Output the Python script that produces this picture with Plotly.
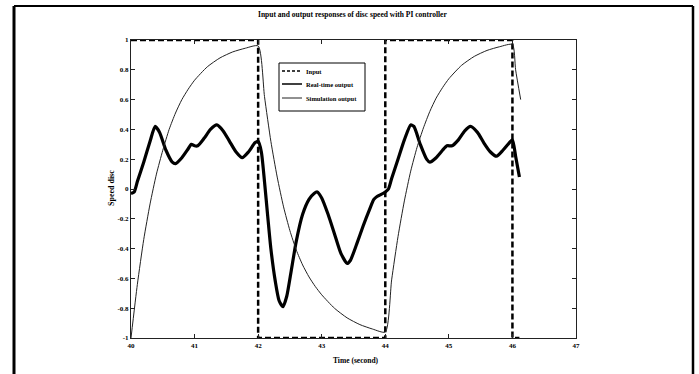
import plotly.graph_objects as go

# ---- data ----
input_t = [40.0, 42.0, 42.0, 44.0, 44.0, 46.0, 46.0, 46.11]
input_v = [1.0, 1.0, -1.0, -1.0, 1.0, 1.0, -1.0, -1.0]

real_t = [40.00, 40.05, 40.10, 40.20, 40.30, 40.38, 40.45, 40.55, 40.65, 40.70,
          40.80, 40.90, 40.95, 41.00, 41.05, 41.15, 41.25, 41.35, 41.45, 41.55,
          41.65, 41.75, 41.85, 41.95, 42.00,
          42.05, 42.10, 42.15, 42.20, 42.27, 42.33, 42.39, 42.45, 42.52, 42.60,
          42.70, 42.80, 42.88, 42.93, 43.00, 43.10, 43.20, 43.30, 43.40, 43.45,
          43.55, 43.65, 43.75, 43.82, 43.87, 43.92, 44.00,
          44.05, 44.10, 44.20, 44.30, 44.40, 44.45, 44.55, 44.65, 44.70, 44.80,
          44.90, 44.97, 45.05, 45.15, 45.25, 45.34, 45.45, 45.55, 45.65, 45.75,
          45.85, 45.95, 46.00, 46.05, 46.11]
real_v = [-0.03, -0.02, 0.05, 0.18, 0.32, 0.42, 0.38, 0.26, 0.18, 0.17,
          0.21, 0.27, 0.30, 0.29, 0.29, 0.34, 0.40, 0.43, 0.39, 0.32,
          0.25, 0.21, 0.25, 0.31, 0.32,
          0.25, 0.05, -0.18, -0.40, -0.62, -0.75, -0.79, -0.72, -0.55, -0.35,
          -0.17, -0.07, -0.03, -0.02, -0.06, -0.17, -0.30, -0.43, -0.50, -0.48,
          -0.37, -0.25, -0.14, -0.07, -0.05, -0.04, -0.02,
          0.00, 0.07, 0.20, 0.33, 0.43, 0.42, 0.30, 0.20, 0.18, 0.21,
          0.26, 0.29, 0.29, 0.33, 0.39, 0.42, 0.38, 0.31, 0.25, 0.22,
          0.26, 0.31, 0.33, 0.22, 0.08]

sim_t = [40.0, 40.1, 40.2, 40.3, 40.4, 40.5, 40.6, 40.7, 40.8, 40.9, 41.0,
         41.2, 41.4, 41.6, 41.8, 42.0,
         42.1, 42.2, 42.3, 42.4, 42.5, 42.6, 42.7, 42.8, 42.9, 43.0, 43.2, 43.4,
         43.6, 43.8, 44.0,
         44.1, 44.2, 44.3, 44.4, 44.5, 44.6, 44.7, 44.8, 44.9, 45.0, 45.2,
         45.4, 45.6, 45.8, 46.0,
         46.05, 46.13]
sim_v = [-1.0, -0.64, -0.34, -0.10, 0.10, 0.26, 0.40, 0.51, 0.60, 0.67, 0.73,
         0.82, 0.88, 0.92, 0.945, 0.96,
         0.62, 0.32, 0.08, -0.12, -0.28, -0.41, -0.51, -0.59, -0.655, -0.71, -0.80, -0.865,
         -0.91, -0.94, -0.96,
         -0.61, -0.32, -0.08, 0.12, 0.28, 0.41, 0.52, 0.61, 0.68, 0.74, 0.83,
         0.89, 0.93, 0.955, 0.97,
         0.80, 0.60]

x_ticks = [40, 41, 42, 43, 44, 45, 46, 47]
x_labels = ["40", "41", "42", "43", "44", "45", "46", "47"]
y_ticks = [1, 0.8, 0.6, 0.4, 0.2, 0, -0.2, -0.4, -0.6, -0.8, -1]
y_labels = ["1", "0.8", "0.6", "0.4", "0.2", "0", "-0.2", "-0.4", "-0.6", "-0.8", "-1"]

series_names = ["Input", "Real-time output", "Simulation output"]

FONT = "Liberation Serif"

fig = go.Figure()
fig.add_trace(go.Scatter(x=input_t, y=input_v, mode="lines", name=series_names[0],
                         line=dict(color="black", width=2.5, dash="6px,3px"),
                         cliponaxis=False, showlegend=False))
fig.add_trace(go.Scatter(x=real_t, y=real_v, mode="lines", name=series_names[1],
                         line=dict(color="black", width=3.2, shape="spline", smoothing=0.6),
                         showlegend=False))
fig.add_trace(go.Scatter(x=sim_t, y=sim_v, mode="lines", name=series_names[2],
                         line=dict(color="#222222", width=1, shape="spline", smoothing=0.6),
                         showlegend=False))

W, H = 699, 374
L, R, T, B = 131, 123, 40, 36
pw, ph = W - L - R, H - T - B

def px(x):
    return (x - L) / pw

def py(y):
    return (H - B - y) / ph

# ---- legend box drawn in the style of the reference (compact MATLAB legend) ----
legend_rows = [71, 84, 98]
legend_styles = [dict(color="black", width=1.4, dash="3px,2px"),
                 dict(color="black", width=1.5),
                 dict(color="#222222", width=1)]
shapes = [
    dict(type="rect", xref="paper", yref="paper", x0=px(279), x1=px(365),
         y0=py(63), y1=py(111), line=dict(color="black", width=1), fillcolor="white",
         layer="above"),
]
annotations = []
for nm, st, row in zip(series_names, legend_styles, legend_rows):
    shapes.append(dict(type="line", xref="paper", yref="paper", x0=px(282), x1=px(302),
                       y0=py(row), y1=py(row), line=st, layer="above"))
    annotations.append(dict(text="<b>" + nm + "</b>", xref="paper", yref="paper",
                            x=px(303.5), y=py(row), xanchor="left", yanchor="middle",
                            showarrow=False, font=dict(family=FONT, size=6.5, color="black")))

# outer frame of the scanned figure
shapes += [
    dict(type="line", xref="paper", yref="paper", x0=px(14), x1=px(14),
         y0=py(6), y1=py(380), line=dict(color="black", width=3)),
    dict(type="line", xref="paper", yref="paper", x0=px(14), x1=px(693),
         y0=py(6), y1=py(6), line=dict(color="black", width=2)),
    dict(type="line", xref="paper", yref="paper", x0=px(693), x1=px(693),
         y0=py(6), y1=py(380), line=dict(color="black", width=2.5)),
]

annotations += [
    dict(text="<b>Input and output responses of disc speed with PI controller</b>",
         xref="paper", yref="paper", x=px(352), y=py(14), xanchor="center", yanchor="middle",
         showarrow=False, font=dict(family=FONT, size=7.5, color="black")),
    dict(text="<b>Speed disc</b>", xref="paper", yref="paper", x=px(112), y=py(188),
         xanchor="center", yanchor="middle",
         textangle=-90, showarrow=False, font=dict(family=FONT, size=8, color="black")),
    dict(text="<b>Time (second)</b>", xref="paper", yref="paper", x=px(356), y=py(360),
         xanchor="center", yanchor="middle",
         showarrow=False, font=dict(family=FONT, size=7.5, color="black")),
]

fig.update_layout(
    width=W, height=H,
    margin=dict(l=L, r=R, t=T, b=B),
    paper_bgcolor="white", plot_bgcolor="white",
    font=dict(family=FONT, size=7, color="black"),
    showlegend=False,
    xaxis=dict(range=[40, 47], tickvals=x_ticks, ticktext=x_labels,
               showgrid=False, zeroline=False, showline=True, linecolor="#222",
               linewidth=1.2, mirror="ticks", ticks="inside", ticklen=4,
               tickcolor="#222",
               tickfont=dict(family=FONT, size=7, color="black", weight="bold")),
    yaxis=dict(range=[-1, 1], tickvals=y_ticks, ticktext=y_labels,
               showgrid=False, zeroline=False, showline=True, linecolor="#222",
               linewidth=1.2, mirror="ticks", ticks="inside", ticklen=4,
               tickcolor="#222",
               tickfont=dict(family=FONT, size=7, color="black", weight="bold")),
    annotations=annotations,
    shapes=shapes,
)

fig.write_html("out.html", config={"displayModeBar": False},
               post_script="document.body.style.margin='0';document.body.style.overflow='hidden';")
